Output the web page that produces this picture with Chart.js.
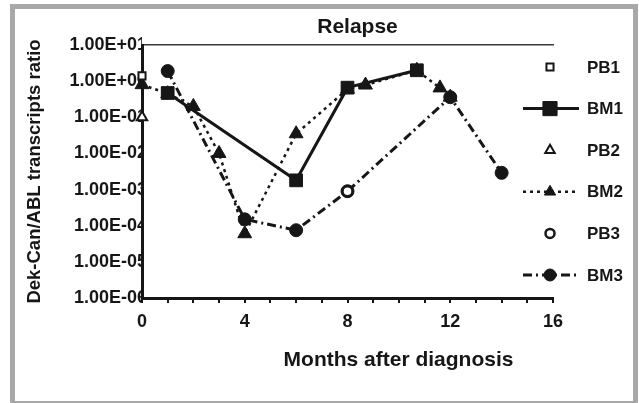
<!DOCTYPE html>
<html><head><meta charset="utf-8">
<script src="https://cdn.jsdelivr.net/npm/chart.js@4.4.1/dist/chart.umd.min.js"></script>
<style>
html,body{margin:0;padding:0;background:#fff;width:639px;height:403px;overflow:hidden;}
#frame{position:absolute;left:10px;top:4px;width:628px;height:402px;box-sizing:border-box;border:5px solid #a8a8a8;}
#c{position:absolute;left:15px;top:9px;}
</style></head><body>
<div id="frame"></div>
<canvas id="c" width="618" height="391"></canvas>
<script>
const chartTitle = 'Relapse';
const xTitle = 'Months after diagnosis';
const yTitle = 'Dek-Can/ABL transcripts ratio';

const pb1Months = [0];
const pb1Values = [1.4];
const bm1Months = [1, 6, 8, 10.7];
const bm1Values = [0.47, 0.0018, 0.66, 2.0];
const pb2Months = [0];
const pb2Values = [0.1];
const bm2Months = [0, 1, 2, 3, 4, 6, 8, 8.7, 10.7, 11.6, 12];
const bm2Values = [0.8, 0.45, 0.2, 0.01, 0.00006, 0.035, 0.6, 0.78, 2.0, 0.65, 0.36];
const pb3Months = [8];
const pb3Values = [0.0009];
const bm3Months = [1, 4, 6, 8, 12, 14];
const bm3Values = [1.9, 0.00015, 0.000075, 0.0009, 0.36, 0.0029];

const yTickValues = [1e-6, 1e-5, 1e-4, 1e-3, 1e-2, 1e-1, 1, 10];
const yTickLabels = ['1.00E-06','1.00E-05','1.00E-04','1.00E-03','1.00E-02','1.00E-01','1.00E+00','1.00E+01'];
const xTickLabels = ['0','4','8','12','16'];

const FONT = "'Liberation Sans', Arial, Helvetica, sans-serif";
const INK = '#161616';

function pts(m, v) { return m.map((x, i) => ({x: x, y: v[i]})); }

Chart.defaults.font.family = FONT;
Chart.defaults.font.weight = 'bold';
Chart.defaults.color = INK;

function drawMarker(ctx, style, r, bw, x, y) {
  if (Chart.helpers && Chart.helpers.drawPoint) {
    Chart.helpers.drawPoint(ctx, {pointStyle: style, radius: r, borderWidth: bw, rotation: 0}, x, y);
  }
}

const sideLegend = {
  id: 'sideLegend',
  afterDraw(chart) {
    const {ctx, chartArea} = chart;
    ctx.save();
    chart.data.datasets.forEach((ds, i) => {
      const y = chartArea.top + 22 + i * 41.6;
      const xm = chartArea.right - 3;
      if (ds.showLine) {
        ctx.beginPath();
        ctx.setLineDash(ds.borderDash || []);
        ctx.lineWidth = ds.borderWidth;
        ctx.strokeStyle = ds.borderColor;
        ctx.moveTo(chartArea.right - 30, y);
        ctx.lineTo(chartArea.right + 26, y);
        ctx.stroke();
      }
      ctx.setLineDash([]);
      ctx.fillStyle = ds.pointBackgroundColor;
      ctx.strokeStyle = ds.pointBorderColor;
      ctx.lineWidth = ds.pointBorderWidth;
      drawMarker(ctx, ds.pointStyle, ds.legendRadius, ds.pointBorderWidth, xm, y);
      ctx.fillStyle = INK;
      ctx.font = 'bold 17px ' + FONT;
      ctx.textBaseline = 'middle';
      ctx.textAlign = 'left';
      ctx.fillText(ds.label, chartArea.right + 34, y + 1);
    });
    ctx.restore();
  }
};

const shiftTitles = {
  id: 'shiftTitles',
  afterLayout(chart) {
    const t = chart.titleBlock;
    if (t) { t.left += 10; t.right += 10; }
    const s = chart.boxes.find(b => b !== t && b.options && b.options.text === xTitle);
    if (s) { s.left += 51; s.right += 51; }
  }
};

new Chart(document.getElementById('c'), {
  type: 'scatter',
  data: {
    datasets: [
      {label: 'PB1', data: pts(pb1Months, pb1Values), showLine: false, pointStyle: 'rect', pointRadius: 5,
       pointBackgroundColor: '#fff', pointBorderColor: INK, pointBorderWidth: 2, order: 0, legendRadius: 5, clip: false},
      {label: 'BM1', data: pts(bm1Months, bm1Values), showLine: true, borderColor: INK, borderWidth: 3, borderDash: [],
       pointStyle: 'rect', pointRadius: 9, pointBackgroundColor: INK, pointBorderColor: INK, pointBorderWidth: 1, order: 1, legendRadius: 10, clip: false},
      {label: 'PB2', data: pts(pb2Months, pb2Values), showLine: false, pointStyle: 'triangle', pointRadius: 6,
       pointBackgroundColor: '#fff', pointBorderColor: INK, pointBorderWidth: 2, order: 0, legendRadius: 5.5, clip: false},
      {label: 'BM2', data: pts(bm2Months, bm2Values), showLine: true, borderColor: INK, borderWidth: 2.5, borderDash: [3, 4],
       pointStyle: 'triangle', pointRadius: 8, pointBackgroundColor: INK, pointBorderColor: INK, pointBorderWidth: 1, order: 3, legendRadius: 6.5, clip: false},
      {label: 'PB3', data: pts(pb3Months, pb3Values), showLine: false, pointStyle: 'circle', pointRadius: 5,
       pointBackgroundColor: '#fff', pointBorderColor: INK, pointBorderWidth: 2.5, order: 0, legendRadius: 4.5, clip: false},
      {label: 'BM3', data: pts(bm3Months, bm3Values), showLine: true, borderColor: INK, borderWidth: 3, borderDash: [9, 4, 2, 4],
       pointStyle: 'circle', pointRadius: 6.5, pointBackgroundColor: INK, pointBorderColor: INK, pointBorderWidth: 1, order: 2, legendRadius: 6, clip: false}
    ]
  },
  options: {
    responsive: false,
    animation: false,
    events: [],
    devicePixelRatio: 1,
    layout: {padding: {left: 0, right: 80, top: 0, bottom: 0}},
    elements: {line: {tension: 0, fill: false}},
    plugins: {
      legend: {display: false},
      tooltip: {enabled: false},
      title: {display: true, text: chartTitle, fullSize: false, font: {size: 21, weight: 'bold', lineHeight: 1.2},
              color: INK, padding: {top: 5.4, bottom: 5.4}},
      subtitle: {display: true, text: xTitle, position: 'bottom', fullSize: false,
                 font: {size: 21, weight: 'bold', lineHeight: 1.2}, color: INK, padding: {top: 14.4, bottom: 27.4}}
    },
    scales: {
      x: {
        type: 'linear', position: 'bottom', min: 0, max: 16,
        ticks: {stepSize: 1, autoSkip: false, maxRotation: 0, padding: 8, font: {size: 18, weight: 'bold'}, color: INK,
                callback: v => xTickLabels.includes(String(v)) ? String(v) : ''},
        grid: {display: true, drawOnChartArea: false, drawTicks: true, tickLength: 5, color: INK, lineWidth: 2},
        border: {display: true, color: INK, width: 3},
        afterFit(s) { s.height = 35; }
      },
      xTop: {
        type: 'linear', position: 'top', min: 0, max: 16,
        ticks: {display: false},
        grid: {display: false, drawTicks: false},
        border: {display: true, color: '#3a3a3a', width: 1.5}
      },
      y: {
        type: 'logarithmic', position: 'left', min: 1e-6, max: 10,
        afterBuildTicks(s) { s.ticks = yTickValues.map(v => ({value: v})); },
        ticks: {padding: -5, font: {size: 18, weight: 'bold'}, color: INK, autoSkip: false,
                callback: (v, i) => yTickLabels[i]},
        grid: {display: false, drawTicks: false},
        border: {display: true, color: INK, width: 3},
        title: {display: true, text: yTitle, font: {size: 18.5, weight: 'bold'}, color: INK, padding: {top: 9, bottom: 0}},
        afterFit(s) { s.width = 127; }
      }
    }
  },
  plugins: [sideLegend, shiftTitles]
});
</script>
</body></html>
